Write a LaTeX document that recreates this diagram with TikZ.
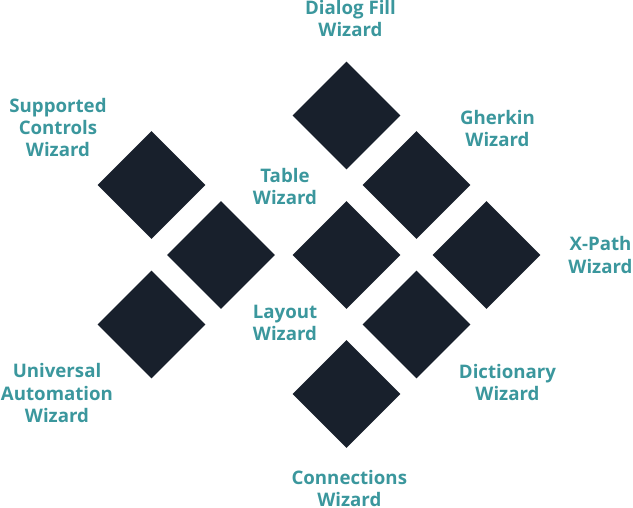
\documentclass[tikz,border=0pt]{standalone}
\usepackage{fontspec}
\setmainfont{Open Sans}
\usetikzlibrary{shapes.geometric}
\definecolor{navy}{HTML}{18202C}
\definecolor{teal}{HTML}{3B979D}
\tikzset{
  tile/.style={diamond, fill=navy, draw=none, inner sep=0pt, minimum width=108pt, minimum height=108pt, aspect=1},
  lbl/.style={anchor=base, inner sep=0pt, text=teal, font=\fontsize{18.67}{22.3}\selectfont\bfseries}
}
\newcommand{\lines}[1]{\begin{tabular}[t]{@{}c@{}}#1\end{tabular}}
\begin{document}
\begin{tikzpicture}[x=1pt,y=-1pt]
\useasboundingbox (0,0) rectangle (633,507);
% tiles
\node[tile] (d1) at (346.5,115.5) {};
\node[tile] (d2) at (416.5,185) {};
\node[tile] (d3) at (346.5,255) {};
\node[tile] (d4) at (486.5,255) {};
\node[tile] (d5) at (416.5,324.5) {};
\node[tile] (d6) at (346.5,394) {};
\node[tile] (d7) at (151.5,185) {};
\node[tile] (d8) at (221,255) {};
\node[tile] (d9) at (151.5,324.5) {};
% labels
\node[lbl] (l1) at (350.5,14.5) {\lines{Dialog Fill\\Wizard}};
\node[lbl] (l2) at (58,112.3) {\lines{Supported\\Controls\\Wizard}};
\node[lbl] (l3) at (285,182.3) {\lines{Table\\Wizard}};
\node[lbl] (l4) at (497.5,124.3) {\lines{Gherkin\\Wizard}};
\node[lbl] (l5) at (600.5,250.7) {\lines{X-Path\\Wizard}};
\node[lbl] (l6) at (285,318.3) {\lines{Layout\\Wizard}};
\node[lbl] (l7) at (57,377.7) {\lines{Universal\\Automation\\Wizard}};
\node[lbl] (l8) at (507.5,378.3) {\lines{Dictionary\\Wizard}};
\node[lbl] (l9) at (349.3,484) {\lines{Connections\\Wizard}};
\end{tikzpicture}
\end{document}
